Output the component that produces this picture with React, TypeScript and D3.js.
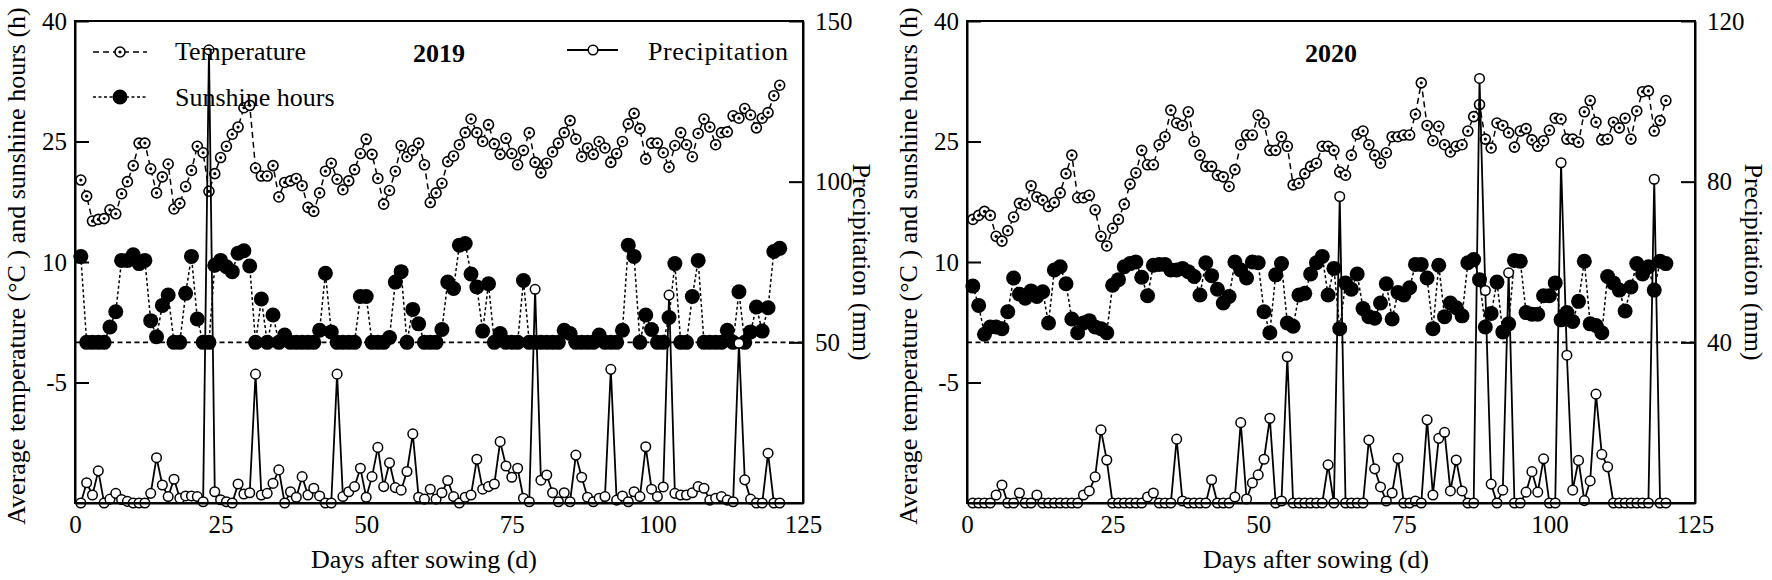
import React, { useRef, useEffect } from 'react'
import * as d3 from 'd3'

// x axis ticks (days after sowing)
const xTicks = [0, 25, 50, 75, 100, 125]
// left axis ticks: temperature (°C) and sunshine hours (h); -20 is the unlabeled bottom
const leftTicks = [40, 25, 10, -5]
const rightTicks2019 = [150, 100, 50]
const rightTicks2020 = [120, 80, 40]

// 2019, days 1..121
const temp2019 = [
  20.2, 18.2, 15.1, 15.3, 15.4, 16.5, 16.0, 18.5, 20.0, 22.0,
  24.8, 24.8, 21.6, 18.6, 20.6, 22.2, 16.6, 17.3, 19.4, 21.4,
  24.4, 23.6, 18.8, 21.0, 23.0, 24.4, 25.9, 26.8, 29.2, 29.5,
  21.7, 20.7, 20.7, 22.0, 18.1, 19.9, 20.1, 20.4, 19.5, 16.8,
  16.3, 18.6, 21.3, 22.3, 20.3, 19.0, 20.1, 21.5, 23.5, 25.3,
  23.4, 20.4, 17.2, 18.9, 21.3, 24.5, 23.1, 23.9, 24.8, 22.1,
  17.4, 18.6, 19.8, 22.5, 23.2, 24.6, 26.1, 27.8, 26.1, 25.0,
  27.1, 24.7, 23.4, 25.4, 23.5, 22.1, 23.9, 26.1, 22.4, 21.1,
  22.3, 23.7, 24.8, 26.1, 27.6, 25.3, 23.1, 24.2, 23.4, 25.0,
  24.2, 22.4, 23.5, 25.0, 27.2, 28.5, 26.6, 22.8, 24.8, 24.8,
  23.6, 21.8, 24.5, 26.1, 24.6, 23.1, 26.0, 27.8, 26.8, 24.6,
  26.1, 26.2, 28.2, 27.9, 29.1, 28.3, 26.7, 27.9, 28.6, 30.7,
  32.0,
]

const sun2019 = [
  10.7, 0, 0, 0, 0, 1.9, 3.8, 10.2, 10.2, 10.9,
  9.8, 10.2, 2.7, 0.7, 4.6, 5.9, 0, 0, 6.1, 10.7,
  2.9, 0, 0, 9.6, 10.2, 9.4, 8.8, 11.1, 11.4, 9.5,
  0, 5.4, 0, 3.4, 0, 0.9, 0, 0, 0, 0,
  0, 1.5, 8.6, 1.3, 0, 0, 0, 0, 5.7, 5.7,
  0, 0, 0, 0.6, 7.5, 8.8, 0, 4.1, 2.3, 0,
  0, 0, 1.6, 7.5, 6.7, 12.1, 12.3, 8.5, 6.9, 1.4,
  7.3, 0, 1.1, 0, 0, 0, 7.7, 0, 0, 0,
  0, 0, 0, 1.5, 1.1, 0, 0, 0, 0, 0.9,
  0, 0, 0, 1.5, 12.1, 10.7, 0, 3.4, 1.6, 0,
  0, 3.1, 9.8, 0, 0, 5.7, 10.2, 0, 0, 0,
  0, 1.5, 0, 6.3, 0, 1.3, 4.4, 1.4, 4.3, 11.3,
  11.7,
]

const precip2019 = [
  0, 6.3, 2.5, 10.0, 0, 1.2, 3.0, 1.1, 0.5, 0,
  0, 0, 3.0, 14.1, 5.6, 2.0, 7.4, 1.5, 2.2, 2.2,
  2.0, 0.4, 141, 3.5, 1.0, 0.4, 0, 5.9, 2.8, 3.2,
  40.1, 2.5, 3.0, 6.1, 10.3, 0, 3.5, 1.8, 8.2, 2.5,
  4.6, 2.2, 0, 0, 40.1, 2.0, 3.5, 5.1, 10.8, 1.8,
  8.2, 17.3, 5.1, 12.5, 4.8, 4.0, 9.8, 21.5, 1.8, 1.2,
  4.3, 1.2, 3.2, 7.0, 2.0, 0, 1.8, 2.5, 13.6, 4.3,
  5.1, 5.9, 19.1, 11.5, 8.0, 10.8, 1.5, 0.4, 66.5, 7.1,
  8.7, 3.2, 0.4, 3.2, 0.4, 14.9, 8.0, 1.8, 0.4, 1.5,
  2.0, 41.6, 0.9, 2.2, 0.4, 3.5, 2.0, 17.5, 4.3, 2.0,
  5.0, 64.7, 3.0, 2.5, 2.5, 3.2, 5.1, 4.6, 0.9, 1.5,
  2.0, 0.9, 0.4, 49.7, 7.2, 1.2, 0, 0, 15.5, 0,
  0,
]

// 2020, days 1..120
const temp2020 = [
  15.3, 15.8, 16.3, 15.8, 13.2, 12.6, 13.9, 15.6, 17.3, 17.1,
  19.5, 18.1, 17.7, 16.9, 17.4, 18.6, 21.0, 23.3, 18.0, 18.0,
  18.3, 16.5, 13.2, 12.0, 14.2, 15.3, 17.2, 19.7, 21.1, 23.9,
  22.1, 22.1, 24.6, 25.6, 28.9, 27.3, 27.0, 28.7, 25.0, 23.3,
  21.9, 21.9, 20.8, 20.6, 19.4, 21.5, 24.6, 25.8, 25.8, 28.3,
  27.3, 23.9, 23.9, 25.6, 24.4, 19.6, 19.8, 21.0, 21.9, 22.3,
  24.4, 24.4, 23.9, 21.2, 20.8, 23.3, 25.9, 26.3, 24.6, 23.3,
  22.3, 23.6, 25.6, 25.6, 25.8, 25.8, 28.4, 32.3, 27.0, 25.1,
  26.9, 24.6, 23.7, 24.4, 24.6, 26.3, 28.1, 29.6, 25.3, 24.2,
  27.3, 27.0, 26.1, 24.3, 26.3, 26.6, 25.2, 24.4, 25.1, 26.4,
  27.9, 27.8, 25.3, 25.3, 24.9, 28.7, 30.1, 27.4, 25.2, 25.3,
  27.4, 26.7, 27.9, 25.3, 28.8, 31.2, 31.3, 26.3, 27.6, 30.1,
]

const sun2020 = [
  7.0, 4.6, 1.0, 1.9, 1.9, 1.7, 3.8, 8.0, 6.0, 5.5,
  6.4, 5.7, 6.3, 2.4, 9.0, 9.4, 7.3, 2.9, 1.2, 2.4,
  2.7, 1.9, 1.7, 1.2, 7.1, 7.8, 9.4, 9.8, 10.0, 8.1,
  5.8, 9.6, 9.7, 9.7, 9.0, 9.0, 9.2, 8.8, 8.2, 5.9,
  9.9, 8.3, 6.6, 4.9, 5.7, 10.0, 9.0, 8.0, 10.0, 9.9,
  3.8, 1.2, 8.4, 9.8, 2.4, 2.0, 5.9, 6.1, 8.5, 9.9,
  10.7, 5.9, 9.2, 1.7, 7.4, 6.6, 8.5, 4.2, 3.2, 3.0,
  4.9, 7.3, 2.9, 6.2, 5.9, 6.8, 9.7, 9.7, 8.0, 1.7,
  9.6, 3.2, 4.9, 4.3, 3.3, 9.9, 10.3, 7.8, 1.9, 3.6,
  7.5, 1.3, 2.3, 10.2, 10.1, 3.7, 3.5, 3.5, 5.8, 5.8,
  7.4, 2.8, 3.7, 2.6, 5.1, 10.1, 2.3, 2.1, 1.2, 8.2,
  7.4, 6.5, 3.9, 6.9, 9.8, 8.5, 9.4, 6.5, 10.1, 9.8,
]

const precip2020 = [
  0, 0, 0, 0, 2.0, 4.5, 0, 0, 2.5, 0,
  0, 2.0, 0, 0, 0, 0, 0, 0, 0, 2.0,
  3.0, 6.5, 18.2, 10.7, 0, 0, 0, 0, 0, 0,
  1.5, 2.5, 0, 0, 0, 15.9, 0.5, 0, 0, 0,
  0, 5.8, 0, 0, 0, 1.5, 20.0, 1.0, 5.0, 7.0,
  10.9, 21.1, 0, 0.5, 36.4, 0, 0, 0, 0, 0,
  0, 9.5, 0, 76.3, 0, 0, 0, 0, 15.7, 8.5,
  4.0, 0.5, 2.5, 11.1, 0, 0, 0.5, 0, 20.7, 2.0,
  16.1, 17.6, 3.0, 10.7, 3.0, 0, 0, 105.7, 52.9, 4.7,
  0, 3.2, 57.3, 0, 0, 2.7, 7.8, 2.7, 11.0, 0,
  0, 84.7, 36.8, 3.2, 10.6, 0.6, 5.5, 27.1, 12.1, 9.0,
  0, 0, 0, 0, 0, 0, 0, 80.6, 0, 0,
]

const FONT = "'Liberation Serif', 'Times New Roman', serif"
const TOP = 21
const BOTTOM = 503
const PLOT_W = 728

interface PanelSpec {
  x0: number
  year: string
  temp: number[]
  sun: number[]
  precip: number[]
  precipMax: number
  rightTicks: number[]
  legend: boolean
}

const panels: PanelSpec[] = [
  { x0: 75, year: '2019', temp: temp2019, sun: sun2019, precip: precip2019, precipMax: 150, rightTicks: rightTicks2019, legend: true },
  { x0: 967, year: '2020', temp: temp2020, sun: sun2020, precip: precip2020, precipMax: 120, rightTicks: rightTicks2020, legend: false },
]

function drawPanel(svg: d3.Selection<SVGSVGElement, unknown, null, undefined>, p: PanelSpec) {
  const x1 = p.x0 + PLOT_W
  const x = d3.scaleLinear().domain([0, 125]).range([p.x0, x1])
  const yL = d3.scaleLinear().domain([-20, 40]).range([BOTTOM, TOP])
  const yR = d3.scaleLinear().domain([0, p.precipMax]).range([BOTTOM, TOP])
  const plain = (d: d3.NumberValue) => String(d)

  const g = svg.append('g')

  // zero line for sunshine hours
  g.append('line')
    .attr('x1', x(0))
    .attr('x2', x(125))
    .attr('y1', yL(0))
    .attr('y2', yL(0))
    .attr('stroke', '#000')
    .attr('stroke-width', 1.6)
    .attr('stroke-dasharray', '5,3.5')

  const days = (arr: number[]) => arr.map((v, i) => ({ d: i + 1, v }))

  // sunshine hours
  const sunLine = d3.line<{ d: number; v: number }>().x(e => x(e.d)).y(e => yL(e.v))
  g.append('path')
    .attr('d', sunLine(days(p.sun)))
    .attr('fill', 'none')
    .attr('stroke', '#000')
    .attr('stroke-width', 1.5)
    .attr('stroke-dasharray', '3,2.5')
  g.selectAll('.sun')
    .data(days(p.sun))
    .enter()
    .append('circle')
    .attr('cx', e => x(e.d))
    .attr('cy', e => yL(e.v))
    .attr('r', 7.5)
    .attr('fill', '#000')

  // temperature
  const tempLine = d3.line<{ d: number; v: number }>().x(e => x(e.d)).y(e => yL(e.v))
  g.append('path')
    .attr('d', tempLine(days(p.temp)))
    .attr('fill', 'none')
    .attr('stroke', '#000')
    .attr('stroke-width', 1.5)
    .attr('stroke-dasharray', '6,4')
  const tp = g.selectAll('.temp').data(days(p.temp)).enter().append('g')
  tp.append('circle')
    .attr('cx', e => x(e.d))
    .attr('cy', e => yL(e.v))
    .attr('r', 5)
    .attr('fill', '#fff')
    .attr('stroke', '#000')
    .attr('stroke-width', 1.6)
  tp.append('circle')
    .attr('cx', e => x(e.d))
    .attr('cy', e => yL(e.v))
    .attr('r', 1.6)
    .attr('fill', '#000')

  // precipitation (right axis)
  const precipLine = d3.line<{ d: number; v: number }>().x(e => x(e.d)).y(e => yR(e.v))
  g.append('path')
    .attr('d', precipLine(days(p.precip)))
    .attr('fill', 'none')
    .attr('stroke', '#000')
    .attr('stroke-width', 1.8)
  g.selectAll('.precip')
    .data(days(p.precip))
    .enter()
    .append('circle')
    .attr('cx', e => x(e.d))
    .attr('cy', e => yR(e.v))
    .attr('r', 4.8)
    .attr('fill', '#fff')
    .attr('stroke', '#000')
    .attr('stroke-width', 1.5)

  // frame
  g.append('rect')
    .attr('x', p.x0)
    .attr('y', TOP)
    .attr('width', PLOT_W)
    .attr('height', BOTTOM - TOP)
    .attr('fill', 'none')
    .attr('stroke', '#000')
    .attr('stroke-width', 2)

  // axes
  const left = g
    .append('g')
    .attr('transform', `translate(${p.x0},0)`)
    .call(d3.axisLeft(yL).tickValues(leftTicks).tickFormat(plain).tickSizeInner(-14).tickSizeOuter(0).tickPadding(8))
  const right = g
    .append('g')
    .attr('transform', `translate(${x1},0)`)
    .call(d3.axisRight(yR).tickValues(p.rightTicks).tickFormat(plain).tickSizeInner(-14).tickSizeOuter(0).tickPadding(12))
  const bottom = g
    .append('g')
    .attr('transform', `translate(0,${BOTTOM})`)
    .call(d3.axisBottom(x).tickValues(xTicks).tickFormat(plain).tickSize(0).tickPadding(12))
  ;[left, right, bottom].forEach(a => {
    a.select('.domain').attr('stroke-width', 2)
    a.selectAll('.tick line').attr('stroke-width', 2)
    a.selectAll('text').style('font-family', FONT).style('font-size', '25px').attr('fill', '#000')
  })

  // axis titles
  g.append('text')
    .attr('transform', `translate(${p.x0 - 59},${(TOP + BOTTOM) / 2 + 4}) rotate(-90)`)
    .attr('text-anchor', 'middle')
    .attr('dy', '0.35em')
    .style('font-family', FONT)
    .style('font-size', '26px')
    .text('Average temperature (°C ) and sunshine hours (h)')
  g.append('text')
    .attr('transform', `translate(${x1 + 59},${(TOP + BOTTOM) / 2}) rotate(90)`)
    .attr('text-anchor', 'middle')
    .attr('dy', '0.35em')
    .style('font-family', FONT)
    .style('font-size', '26px')
    .text('Precipitation (mm)')
  g.append('text')
    .attr('x', (p.x0 + x1) / 2 - 15)
    .attr('y', 568)
    .attr('text-anchor', 'middle')
    .style('font-family', FONT)
    .style('font-size', '26px')
    .text('Days after sowing (d)')

  // year
  g.append('text')
    .attr('x', (p.x0 + x1) / 2)
    .attr('y', 62)
    .attr('text-anchor', 'middle')
    .style('font-family', FONT)
    .style('font-size', '26px')
    .style('font-weight', 'bold')
    .text(p.year)

  if (p.legend) {
    const lg = g.append('g').style('font-family', FONT).style('font-size', '26px')
    // temperature
    lg.append('line').attr('x1', 93).attr('x2', 147).attr('y1', 52).attr('y2', 52)
      .attr('stroke', '#000').attr('stroke-width', 1.5).attr('stroke-dasharray', '6,4')
    lg.append('circle').attr('cx', 120).attr('cy', 52).attr('r', 5)
      .attr('fill', '#fff').attr('stroke', '#000').attr('stroke-width', 1.6)
    lg.append('circle').attr('cx', 120).attr('cy', 52).attr('r', 1.6).attr('fill', '#000')
    lg.append('text').attr('x', 175).attr('y', 60).text('Temperature')
    // sunshine
    lg.append('line').attr('x1', 93).attr('x2', 147).attr('y1', 97).attr('y2', 97)
      .attr('stroke', '#000').attr('stroke-width', 1.5).attr('stroke-dasharray', '3,2.5')
    lg.append('circle').attr('cx', 120).attr('cy', 97).attr('r', 7.5).attr('fill', '#000')
    lg.append('text').attr('x', 175).attr('y', 106).text('Sunshine hours')
    // precipitation
    lg.append('line').attr('x1', 567).attr('x2', 618).attr('y1', 50).attr('y2', 50)
      .attr('stroke', '#000').attr('stroke-width', 1.8)
    lg.append('circle').attr('cx', 593).attr('cy', 50).attr('r', 4.8)
      .attr('fill', '#fff').attr('stroke', '#000').attr('stroke-width', 1.5)
    lg.append('text').attr('x', 648).attr('y', 60).style('letter-spacing', '0.6px').text('Precipitation')
  }
}

const App: React.FC = () => {
  const svgRef = useRef<SVGSVGElement>(null)

  useEffect(() => {
    if (!svgRef.current) return
    const svg = d3.select(svgRef.current)
    svg.selectAll('*').remove()
    panels.forEach(p => drawPanel(svg, p))
  }, [])

  return (
    <div style={{ position: 'absolute', left: 0, top: 0, background: '#fff' }}>
      <svg ref={svgRef} width={1772} height={580} style={{ display: 'block', background: '#fff' }} />
    </div>
  )
}

export default App
